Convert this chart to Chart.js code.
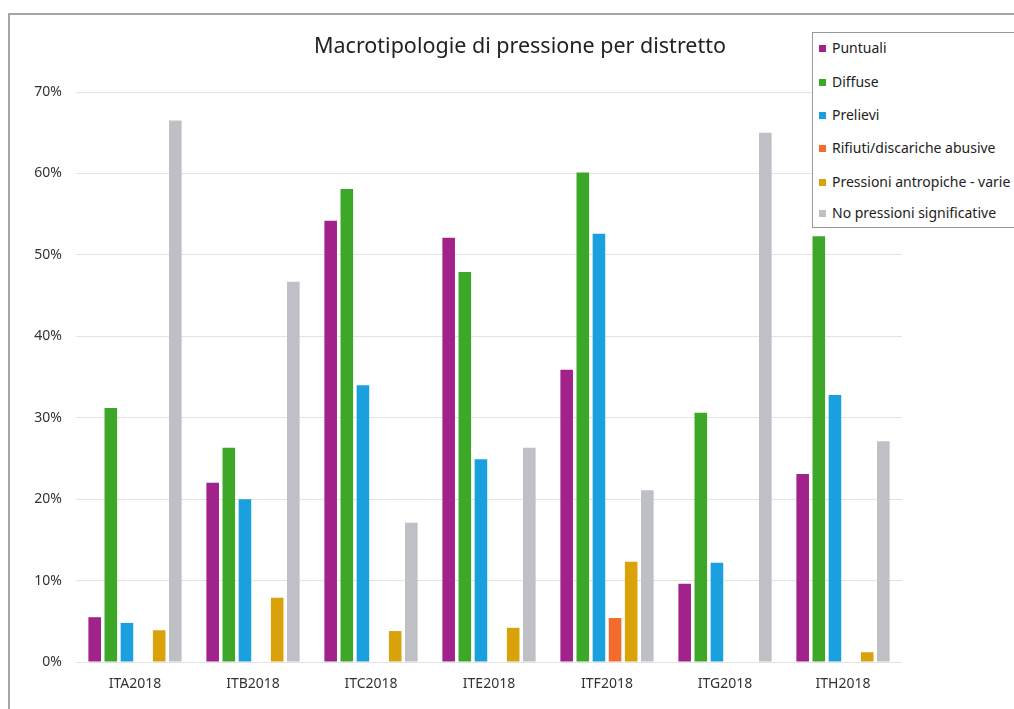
<!DOCTYPE html>
<html>
<head>
<meta charset="utf-8">
<script src="https://cdn.jsdelivr.net/npm/chart.js@4.4.1/dist/chart.umd.min.js"></script>
<style>
  html, body { margin:0; padding:0; width:1014px; height:709px; overflow:hidden; background:#fff; font-family:"Noto Sans", sans-serif; }
  #frame { position:absolute; left:8px; top:13px; width:1030px; height:720px; border:2px solid #a6a6a6; box-sizing:border-box; }
  #wrap { position:absolute; left:0; top:0; width:1014px; height:709px; }
  #title { position:absolute; left:170px; width:700px; top:30px; text-align:center; font-size:21.5px; color:#222; }
  #legend { position:absolute; left:812px; top:32px; width:220px; height:196px; border:1px solid #999; background:#fff; box-sizing:border-box; }
  .li { position:absolute; left:6px; font-size:14px; color:#222; white-space:nowrap; }
  .sw { display:inline-block; width:7px; height:7px; margin-right:6px; vertical-align:middle; position:relative; top:-1px; }
</style>
</head>
<body>
<div id="frame"></div>
<div id="wrap"><canvas id="c" width="1014" height="709"></canvas></div>
<div id="title">Macrotipologie di pressione per distretto</div>
<div id="legend"></div>
<script>
const categories = ["ITA2018","ITB2018","ITC2018","ITE2018","ITF2018","ITG2018","ITH2018"];
const seriesNames = ["Puntuali","Diffuse","Prelievi","Rifiuti/discariche abusive","Pressioni antropiche - varie","No pressioni significative"];
const puntuali   = [5.5, 22.0, 54.2, 52.1, 35.9,  9.6, 23.1];
const diffuse    = [31.2, 26.3, 58.1, 47.9, 60.1, 30.6, 52.3];
const prelievi   = [4.8, 20.0, 34.0, 24.9, 52.6, 12.2, 32.8];
const rifiuti    = [0, 0, 0, 0, 5.4, 0, 0];
const pressioni  = [3.9, 7.9, 3.8, 4.2, 12.3, 0, 1.2];
const noPressioni= [66.5, 46.7, 17.1, 26.3, 21.1, 65.0, 27.1];
const yTicks = [0,10,20,30,40,50,60,70];
const colors = ["#a2228c","#3da828","#1a9fdf","#f26d2d","#d9a10a","#bfbfc6"];

const seriesData = [puntuali, diffuse, prelievi, rifiuti, pressioni, noPressioni];
const datasets = seriesNames.map((n,i)=>({label:n, data:seriesData[i], backgroundColor:colors[i], barPercentage:0.78, categoryPercentage:0.82}));

new Chart(document.getElementById('c'), {
  type:'bar',
  data:{labels:categories, datasets:datasets},
  options:{
    responsive:false, animation:false,
    layout:{padding:{top:92, right:112, left:0, bottom:0}},
    plugins:{legend:{display:false}, title:{display:false}, tooltip:{enabled:false}},
    scales:{
      x:{
        grid:{display:false, drawTicks:false},
        border:{display:false},
        ticks:{color:'#333', font:{family:'Noto Sans', size:14}, padding:14, maxRotation:0},
        afterFit:(s)=>{ s.height = 47; }
      },
      y:{
        min:0, max:70,
        afterBuildTicks:(s)=>{ s.ticks = yTicks.map(v=>({value:v})); },
        grid:{color:'#e3e3e3', drawTicks:false, lineWidth:1},
        border:{display:false},
        ticks:{color:'#333', font:{family:'Noto Sans', size:14}, padding:14, callback:(v)=>v+'%'},
        afterFit:(s)=>{ s.width = 76; }
      }
    }
  }
});

const lg = document.getElementById('legend');
const tops = [5, 39, 72, 105, 139, 170];
seriesNames.forEach((n,i)=>{
  const d = document.createElement('div');
  d.className='li'; d.style.top = tops[i]+'px';
  d.innerHTML = '<span class="sw" style="background:'+colors[i]+'"></span>'+n;
  lg.appendChild(d);
});
</script>
</body>
</html>
